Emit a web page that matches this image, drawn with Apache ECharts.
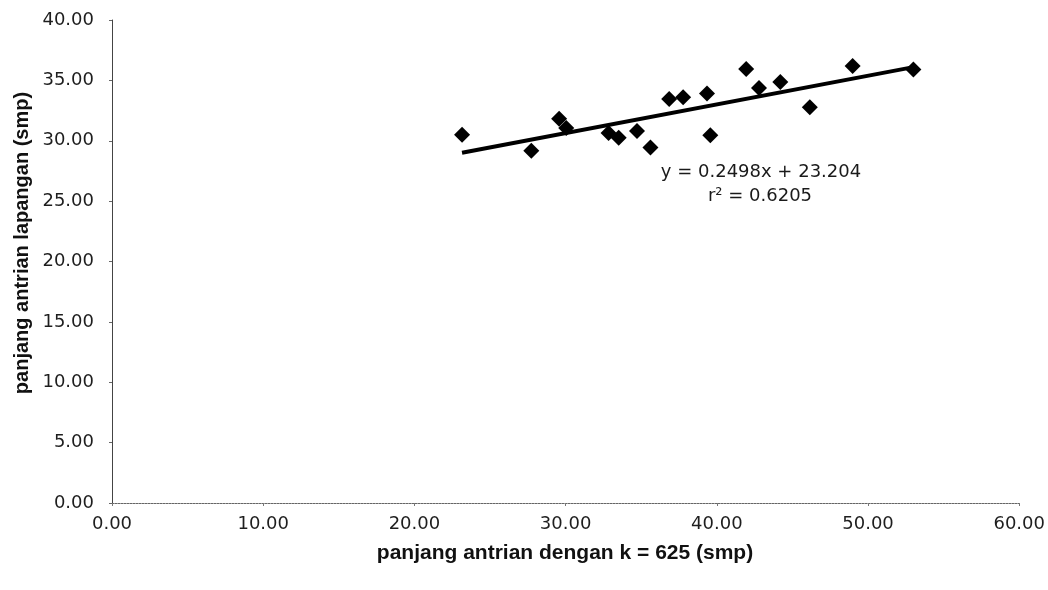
<!DOCTYPE html>
<html>
<head>
<meta charset="utf-8">
<script src="https://cdn.jsdelivr.net/npm/echarts@6/dist/echarts.min.js"></script>
<style>
html,body{margin:0;padding:0;background:#fff;}
#chart{width:1048px;height:590px;}
</style>
</head>
<body>
<div id="chart"></div>
<script>
// Observed points (x = panjang antrian dengan k = 625, y = panjang antrian lapangan)
const xValues = [23.15, 27.73, 29.57, 30.04, 32.84, 33.51, 34.72, 35.61, 36.85, 37.77, 39.35, 39.57, 41.94, 42.79, 44.20, 46.15, 48.98, 53.00];
const yValues = [30.50, 29.18, 31.83, 31.06, 30.64, 30.24, 30.80, 29.44, 33.45, 33.61, 33.91, 30.46, 35.95, 34.37, 34.86, 32.77, 36.20, 35.91];
// Trendline endpoints as drawn in the picture
const trendX = [23.15, 53.0];
const trendY = [29.0, 36.1];
const xTicks = [0, 10, 20, 30, 40, 50, 60];
const yTicks = [0, 5, 10, 15, 20, 25, 30, 35, 40];
const equationText = 'y = 0.2498x + 23.204';
const r2Text = 'r² = 0.6205';
const xTitle = 'panjang antrian dengan k = 625 (smp)';
const yTitle = 'panjang antrian lapangan (smp)';

const points = xValues.map((x, i) => [x, yValues[i]]);
const trend = trendX.map((x, i) => [x, trendY[i]]);

const chart = echarts.init(document.getElementById('chart'), null, {renderer: 'canvas'});
const tickFont = '"DejaVu Sans", "Liberation Sans", Arial, sans-serif';
const titleFont = 'bold 20px "Liberation Sans", Arial, sans-serif';
chart.setOption({
  backgroundColor: '#ffffff',
  animation: false,
  grid: {left: 112, right: 28, top: 20, bottom: 87, containLabel: false},
  xAxis: {
    type: 'value', min: xTicks[0], max: xTicks[xTicks.length - 1], interval: 10,
    axisLine: {show: true, onZero: false, lineStyle: {color: '#666', width: 1, type: [2, 1]}},
    axisTick: {show: true, length: 3, inside: false, lineStyle: {color: '#777'}},
    splitLine: {show: false},
    axisLabel: {fontFamily: tickFont, fontSize: 18, color: '#1e1e1e', margin: 12, formatter: v => v.toFixed(2)}
  },
  yAxis: {
    type: 'value', min: yTicks[0], max: yTicks[yTicks.length - 1], interval: 5,
    axisLine: {show: true, onZero: false, lineStyle: {color: '#444', width: 1}},
    axisTick: {show: true, length: 3, lineStyle: {color: '#666'}},
    splitLine: {show: false},
    axisLabel: {fontFamily: tickFont, fontSize: 18, color: '#1e1e1e', margin: 18, formatter: v => v.toFixed(2)}
  },
  series: [
    {
      type: 'line', data: trend, symbol: 'none', silent: true,
      lineStyle: {color: '#000', width: 4}, z: 2
    },
    {
      type: 'scatter', data: points, symbol: 'diamond', symbolSize: [16, 16],
      itemStyle: {color: '#000', opacity: 1}, z: 3
    }
  ],
  graphic: [
    {type: 'text', x: 761, y: 172, style: {text: equationText, font: '18px "DejaVu Sans", Arial, sans-serif', fill: '#1a1a1a', align: 'center', verticalAlign: 'middle'}},
    {type: 'text', x: 760, y: 196, style: {text: r2Text, font: '18px "DejaVu Sans", Arial, sans-serif', fill: '#1a1a1a', align: 'center', verticalAlign: 'middle'}},
    {type: 'text', x: 565, y: 553, style: {text: xTitle, font: 'bold 21px "Liberation Sans", Arial, sans-serif', fill: '#111', align: 'center', verticalAlign: 'middle'}},
    {type: 'text', x: 22, y: 243, rotation: Math.PI / 2, style: {text: yTitle, font: titleFont, fill: '#111', align: 'center', verticalAlign: 'middle'}}
  ]
});
</script>
</body>
</html>
